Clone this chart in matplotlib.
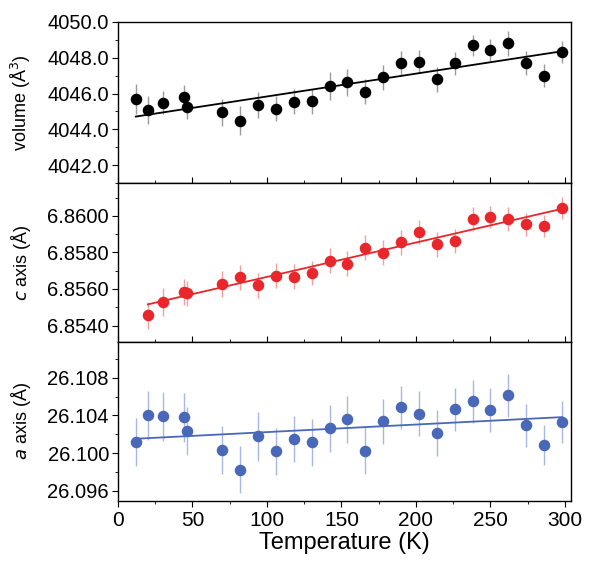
import matplotlib
matplotlib.use('Agg')
import matplotlib.pyplot as plt
import numpy as np
from matplotlib.ticker import MultipleLocator, FormatStrFormatter

plt.rcParams['font.family'] = ['Liberation Sans', 'DejaVu Sans']

############### DATA ###############
temp = [12, 20, 30, 44, 46, 70, 82, 94, 106, 118, 130, 142, 154,
        166, 178, 190, 202, 214, 226, 238, 250, 262, 274, 286, 298]

volume = [4045.70, 4045.08, 4045.48, 4045.78, 4045.27, 4044.95, 4044.49, 4045.36,
          4045.16, 4045.55, 4045.57, 4046.43, 4046.62, 4046.09, 4046.90, 4047.70,
          4047.79, 4046.79, 4047.68, 4048.69, 4048.43, 4048.82, 4047.70, 4046.99,
          4048.30]
volume_err = [0.82, 0.77, 0.65, 0.70, 0.72, 0.75, 0.80, 0.72, 0.70, 0.72, 0.70, 0.80,
              0.75, 0.70, 0.70, 0.65, 0.65, 0.72, 0.65, 0.60, 0.60, 0.70, 0.65, 0.65,
              0.62]
volume_fit = [4044.56, 0.01276]   # intercept, slope

temp_c = temp[1:]
c_axis = [6.85455, 6.85528, 6.85583, 6.85576, 6.85628, 6.85664, 6.85620, 6.85673,
          6.85666, 6.85686, 6.85754, 6.85739, 6.85826, 6.85798, 6.85855, 6.85910,
          6.85844, 6.85862, 6.85985, 6.85994, 6.85982, 6.85954, 6.85947, 6.86042]
c_err = [0.00072, 0.00075, 0.00070, 0.00070, 0.00070, 0.00068, 0.00070, 0.00068,
         0.00068, 0.00065, 0.00068, 0.00068, 0.00070, 0.00068, 0.00068, 0.00065,
         0.00070, 0.00065, 0.00065, 0.00060, 0.00065, 0.00062, 0.00060, 0.00060]
c_fit = [6.85478, 1.881e-5]

a_axis = [26.10117, 26.10400, 26.10389, 26.10382, 26.10234, 26.10032, 26.09820,
          26.10177, 26.10018, 26.10149, 26.10113, 26.10265, 26.10358, 26.10025,
          26.10336, 26.10485, 26.10418, 26.10212, 26.10464, 26.10549, 26.10457,
          26.10612, 26.10294, 26.10085, 26.10329]
a_err = [0.0026, 0.0026, 0.0026, 0.0026, 0.0026, 0.0025, 0.0025, 0.0026, 0.0025,
         0.0024, 0.0025, 0.0025, 0.0025, 0.0025, 0.0024, 0.0023, 0.0024, 0.0024,
         0.0023, 0.0023, 0.0023, 0.0023, 0.0023, 0.0021, 0.0022]
a_fit = [26.10142, 8.04e-6]

############### FIGURE ###############
fig = plt.figure(figsize=(5.89, 5.62), dpi=100)
left, width = 0.2003, 0.769
ax_v = fig.add_axes([left, 0.6744, width, 0.2865])
ax_c = fig.add_axes([left, 0.3915, width, 0.2829])
ax_a = fig.add_axes([left, 0.1085, width, 0.2830])

panels = [
    (ax_v, temp, volume, volume_err, volume_fit, 'black', '#9a9a9a',
     'volume (Å$^3$)', (4041.0, 4050.0), 2.0, 1.0, '%.1f'),
    (ax_c, temp_c, c_axis, c_err, c_fit, '#e8262b', '#f2a0a0',
     '$c$ axis (Å)', (6.8531, 6.8618), 0.002, 0.001, '%.4f'),
    (ax_a, temp, a_axis, a_err, a_fit, '#4a68b8', '#a9b8e0',
     '$a$ axis (Å)', (26.0949, 26.1118), 0.004, 0.002, '%.3f'),
]

for ax, x, y, err, fit, col, ecol, label, ylim, major, minor, fmt in panels:
    ax.errorbar(x, y, yerr=err, fmt='none', ecolor=ecol, elinewidth=1.0, zorder=1)
    ax.plot(x, y, 'o', color=col, markersize=7.3, zorder=3)
    xf = np.array([x[0], x[-1]])
    ax.plot(xf, fit[0] + fit[1] * xf, color=col, linewidth=1.3, zorder=2)
    ax.set_xlim(0, 304)
    ax.set_ylim(*ylim)
    ax.set_ylabel(label, fontsize=13)
    ax.yaxis.set_major_locator(MultipleLocator(major))
    ax.yaxis.set_minor_locator(MultipleLocator(minor))
    ax.yaxis.set_major_formatter(FormatStrFormatter(fmt))
    ax.xaxis.set_major_locator(MultipleLocator(50))
    ax.xaxis.set_minor_locator(MultipleLocator(25))
    ax.tick_params(axis='y', which='both', direction='out', labelsize=14.5, pad=2)
    ax.tick_params(axis='y', which='major', length=4.5)
    ax.tick_params(axis='y', which='minor', length=2.5)
    ax.yaxis.set_label_coords(-0.188, 0.5)
    for s in ax.spines.values():
        s.set_linewidth(1.0)

for ax in (ax_v, ax_c):
    ax.tick_params(axis='x', which='both', direction='in', labelbottom=False)
    ax.tick_params(axis='x', which='major', length=4)
    ax.tick_params(axis='x', which='minor', length=2.5)

ax_a.tick_params(axis='x', which='both', direction='out', labelsize=15)
ax_a.tick_params(axis='x', which='major', length=4)
ax_a.tick_params(axis='x', which='minor', length=2.5)
ax_a.set_xlabel('Temperature (K)', fontsize=17, labelpad=1)

fig.savefig('out.png', dpi=100)
